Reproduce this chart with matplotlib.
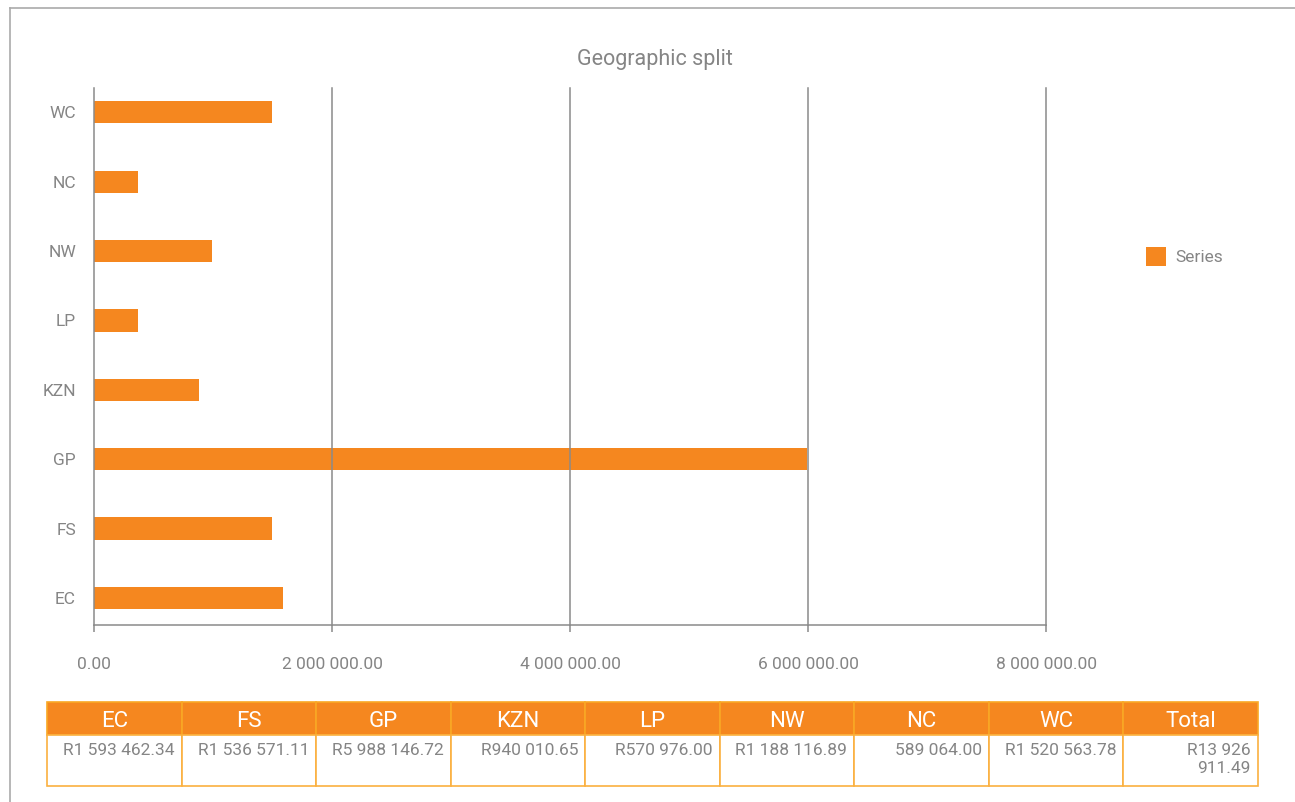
import matplotlib.pyplot as plt
from matplotlib.patches import Rectangle
from matplotlib.lines import Line2D

plt.rcParams['font.family'] = ['Roboto', 'DejaVu Sans']

# provinces, bottom to top
provinces = ["EC", "FS", "GP", "KZN", "LP", "NW", "NC", "WC"]
bar_values = [1591000, 1498000, 5994000, 885000, 372000, 994000, 372000, 1498000]
x_ticks = [0, 2000000, 4000000, 6000000, 8000000]

# data table under the chart
table_heads = ["EC", "FS", "GP", "KZN", "LP", "NW", "NC", "WC", "Total"]
table_cells = ["R1 593 462.34", "R1 536 571.11", "R5 988 146.72", "R940 010.65",
               "R570 976.00", "R1 188 116.89", "589 064.00", "R1 520 563.78",
               "R13 926\n911.49"]

orange = "#F5871F"
grey = "#8a8a8a"
txt = "#858585"

W, H = 1295, 802
fig = plt.figure(figsize=(W / 100, H / 100), dpi=100)

# outer frame
fig.add_artist(Line2D([10 / W, 1], [1 - 8 / H, 1 - 8 / H], color="#aaaaaa", lw=1.2))
fig.add_artist(Line2D([10 / W, 10 / W], [0, 1 - 8 / H], color="#aaaaaa", lw=1.2))

ax = fig.add_axes([94 / W, 1 - 625 / H, (1046 - 94) / W, (625 - 88) / H])
ypos = list(range(len(provinces)))
ax.barh(ypos, bar_values, height=0.32, color=orange, zorder=1, label="Series")
ax.set_xlim(0, 8000000)
ax.set_ylim(-0.39, 7.35)
ax.set_yticks(ypos)
ax.set_yticklabels(provinces)
ax.set_xticks(x_ticks)
ax.set_xticklabels([f"{v:,.2f}".replace(",", " ") for v in x_ticks])
for v in x_ticks[1:]:
    ax.axvline(v, color=grey, lw=1.1, zorder=3, clip_on=False)
for s in ["top", "right"]:
    ax.spines[s].set_visible(False)
ax.spines["left"].set_color(grey)
ax.spines["left"].set_linewidth(1.1)
ax.spines["left"].set_zorder(3)
ax.spines["bottom"].set_color(grey)
ax.spines["bottom"].set_linewidth(1.1)
ax.tick_params(axis="y", length=0, pad=13, labelsize=12.5, labelcolor=txt)
ax.tick_params(axis="x", length=5, width=1.1, color=grey, pad=18,
               labelsize=12.5, labelcolor=txt)
fig.text(655 / W, 1 - 60 / H, "Geographic split", ha="center", va="center",
         fontsize=15.5, color=txt)

ax.legend(loc="center left", bbox_to_anchor=(1.089, 0.686), frameon=False,
          fontsize=12.5, labelcolor=txt, handlelength=1.15, handleheight=1.25,
          handletextpad=0.55)

# table drawn in pixel coordinates
tab = fig.add_axes([0, 0, 1, 1])
tab.set_xlim(0, W)
tab.set_ylim(H, 0)
tab.axis("off")
left, right = 47, 1258
top, mid, bottom = 702, 735, 786
cw = (right - left) / len(table_heads)
for i, (hd, cell) in enumerate(zip(table_heads, table_cells)):
    x0 = left + i * cw
    tab.add_patch(Rectangle((x0, top), cw, mid - top, facecolor=orange,
                            edgecolor="#F9A825", lw=1.2))
    tab.add_patch(Rectangle((x0, mid), cw, bottom - mid, facecolor="white",
                            edgecolor="#FBB040", lw=1.2))
    tab.text(x0 + cw / 2, (top + mid) / 2 + 3, hd, ha="center", va="center",
             fontsize=16, color="white")
    tab.text(x0 + cw - 7, mid + 8, cell, ha="right", va="top", fontsize=12.5,
             color=txt, linespacing=1.25)

fig.savefig("out.png", dpi=100)
